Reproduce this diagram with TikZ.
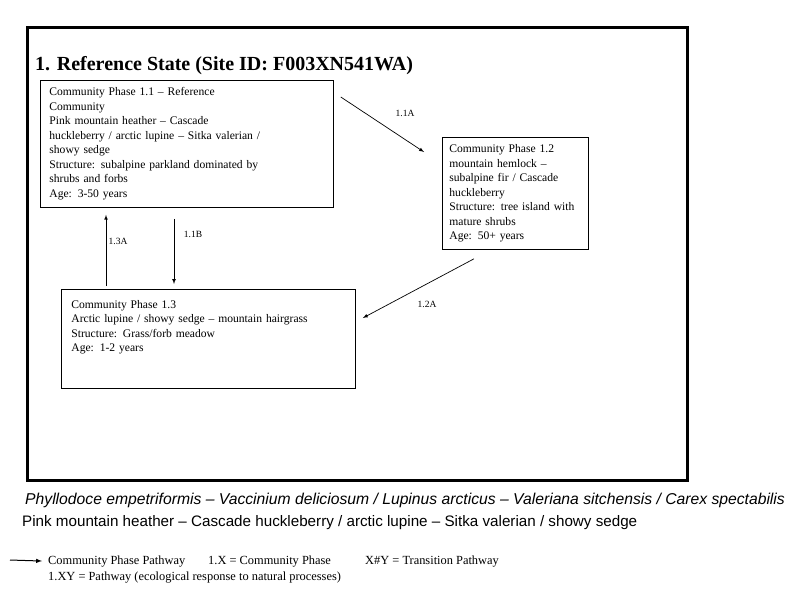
\documentclass[tikz,border=0pt]{standalone}
\usepackage{fontspec}
\setmainfont{Liberation Serif}
\newfontfamily\arialfont{Liberation Sans}
\usetikzlibrary{positioning}

\begin{document}
\begin{tikzpicture}[x=1pt,y=-1pt]
\tikzstyle{phase}=[draw,line width=0.8pt,anchor=north west,align=left,inner xsep=9pt,font=\fontsize{11.6}{14.5}\selectfont]
\tikzstyle{pathway}=[line width=0.7pt,-latex]
\tikzstyle{plabel}=[inner sep=0pt,font=\fontsize{9.5}{10}\selectfont]
\tikzstyle{legend}=[anchor=base west,inner sep=0pt,font=\fontsize{12.4}{13}\selectfont]
\useasboundingbox (0,0) rectangle (800,600);
\draw[line width=3pt] (27,27) rectangle (687,480);
\node[anchor=base west,inner sep=0pt,font=\fontsize{20}{24}\selectfont\bfseries] (title) at (35,70) {1. Reference State (Site ID: F003XN541WA)};
% community phases
\node[phase,text width=275pt,minimum height=127pt] (p11) at (40,80) {Community Phase 1.1 – Reference\\Community\\Pink mountain heather – Cascade\\huckleberry / arctic lupine – Sitka valerian /\\showy sedge\\Structure: subalpine parkland dominated by\\shrubs and forbs\\Age: 3-50 years};
\node[phase,text width=132pt,inner xsep=7pt,minimum height=112pt] (p12) at (442,137) {Community Phase 1.2\\mountain hemlock –\\subalpine fir / Cascade\\huckleberry\\Structure: tree island with\\mature shrubs\\Age: 50+ years};
\node[phase,text width=274pt,inner xsep=10pt,inner ysep=11pt] (p13) at (61,289) {Community Phase 1.3\\Arctic lupine / showy sedge – mountain hairgrass\\Structure: Grass/forb meadow\\Age: 1-2 years\\[11pt]\mbox{}};
% pathways
\draw[pathway] ([xshift=7pt,yshift=-17pt]p11.north east) -- ([xshift=-18pt,yshift=-15pt]p12.north west);
\draw[pathway] ([xshift=134pt,yshift=-11pt]p11.south west) -- ([xshift=113pt,yshift=5pt]p13.north west);
\draw[pathway] ([xshift=45pt,yshift=3pt]p13.north west) -- ([xshift=66pt,yshift=-7pt]p11.south west);
\draw[pathway] ([xshift=32pt,yshift=-9pt]p12.south west) -- ([xshift=7pt,yshift=-29pt]p13.north east);
\node[plabel] (l11a) at (405,113) {1.1A};
\node[plabel] (l11b) at (193,234) {1.1B};
\node[plabel] (l13a) at (118,241) {1.3A};
\node[plabel] (l12a) at (427,304) {1.2A};
% species
\node[anchor=base west,inner sep=0pt,font=\arialfont\itshape\fontsize{15.7}{18}\selectfont] (latin) at (25,504) {Phyllodoce empetriformis – Vaccinium deliciosum / Lupinus arcticus – Valeriana sitchensis / Carex spectabilis};
\node[anchor=base west,inner sep=0pt,font=\arialfont\fontsize{15.2}{18}\selectfont] (common) at (22,526) {Pink mountain heather – Cascade huckleberry / arctic lupine – Sitka valerian / showy sedge};
% legend
\coordinate (legA) at (10,560);
\node[legend] (leg1) at (48,564) {Community Phase Pathway};
\node[legend] (leg2) at (208,564) {1.X = Community Phase};
\node[legend] (leg3) at (365,564) {X\#Y = Transition Pathway};
\node[legend] (leg4) at (48,580) {1.XY = Pathway (ecological response to natural processes)};
\draw[pathway,line width=1pt] (legA) -- ([xshift=-6pt]leg1.west);
\end{tikzpicture}
\end{document}
